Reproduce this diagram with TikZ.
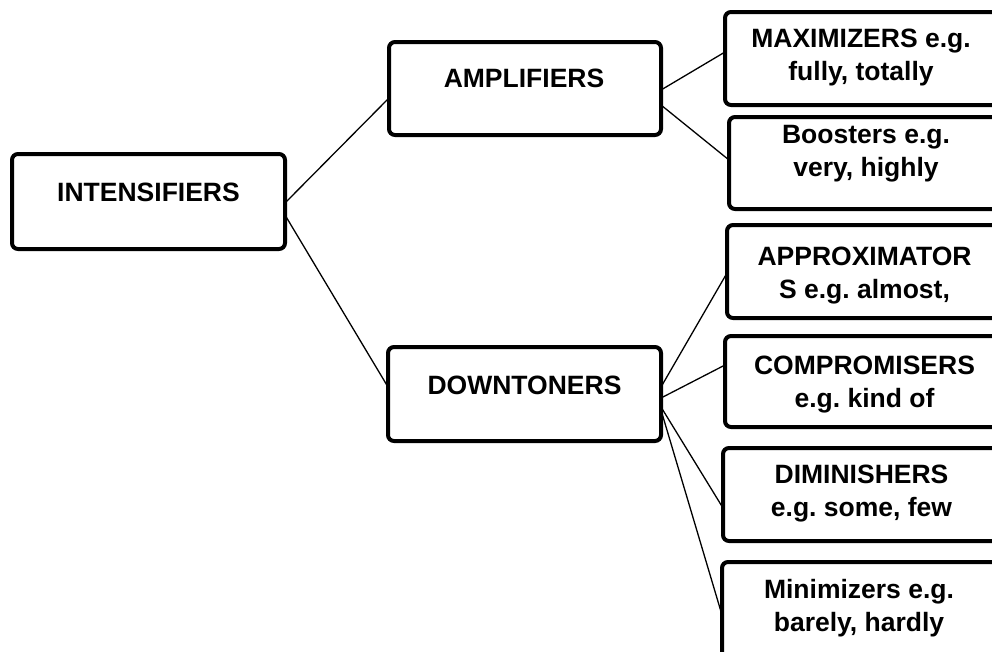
\documentclass[tikz,border=0pt]{standalone}
\usepackage{fontspec}
\setmainfont{Liberation Sans}
\frenchspacing
\begin{document}
\begin{tikzpicture}[x=1pt,y=-1pt,
  box/.style={draw,line width=4pt,rounded corners=6pt,fill=white,inner sep=0pt,outer sep=0pt},
  lbl/.style={anchor=north,inner sep=0pt,align=center,font=\fontsize{26.5}{33}\selectfont\bfseries},
  conn/.style={line width=1.3pt}]
\useasboundingbox (0,0) rectangle (992,651);
\clip (0,0) rectangle (992,651);
% boxes
\node[box,minimum width=273pt,minimum height=95pt] (int) at (148.5,201.5) {};
\node[box,minimum width=272pt,minimum height=93pt] (amp) at (525,88.5) {};
\node[box,minimum width=273pt,minimum height=94pt] (dt) at (524.5,394) {};
\node[box,minimum width=275pt,minimum height=93pt] (max) at (862.5,58.5) {};
\node[box,minimum width=276pt,minimum height=92pt] (boo) at (867,163) {};
\node[box,minimum width=273pt,minimum height=93pt] (app) at (863.5,271.5) {};
\node[box,minimum width=275pt,minimum height=91pt] (comp) at (862.5,381.5) {};
\node[box,minimum width=277pt,minimum height=93pt] (dim) at (861.5,494.5) {};
\node[box,minimum width=278pt,minimum height=108pt] (mini) at (861,616) {};
% texts
\node[lbl] (intT) at (148.5,178.5) {\strut INTENSIFIERS};
\node[lbl] (ampT) at (524,64.5) {\strut AMPLIFIERS};
\node[lbl] (dtT) at (524.5,371.5) {\strut DOWNTONERS};
\node[lbl] (maxT) at (861,24.5) {\strut MAXIMIZERS e.g.\\\strut fully, totally};
\node[lbl] (booT) at (866,120) {\strut Boosters e.g.\\\strut very, highly};
\node[lbl] (appT) at (864.5,242) {\strut APPROXIMATOR\\\strut S e.g. almost,};
\node[lbl] (compT) at (864.5,351.5) {\strut COMPROMISERS\\\strut e.g. kind of};
\node[lbl] (dimT) at (861.5,460.5) {\strut DIMINISHERS\\\strut e.g. some, few};
\node[lbl] (minT) at (859,575.5) {\strut Minimizers e.g.\\\strut barely, hardly};
% connectors
\draw[conn] ([yshift=-1.5pt]int.east) -- ([yshift=-9.5pt]amp.west);
\draw[conn] ([yshift=-13.5pt]int.east) -- ([yshift=7pt]dt.west);
\draw[conn] ([yshift=-1.5pt]amp.east) -- ([yshift=6.5pt]max.west);
\draw[conn] ([yshift=-16.5pt]amp.east) -- ([yshift=3pt]boo.west);
\draw[conn] ([yshift=7pt]dt.east) -- ([yshift=-1.5pt]app.west);
\draw[conn] ([yshift=-4pt]dt.east) -- ([yshift=16.5pt]comp.west);
\draw[conn] ([yshift=-13pt]dt.east) -- ([yshift=-13.5pt]dim.west);
\draw[conn] ([yshift=-16pt]dt.east) -- ([yshift=1pt]mini.west);
\end{tikzpicture}
\end{document}
